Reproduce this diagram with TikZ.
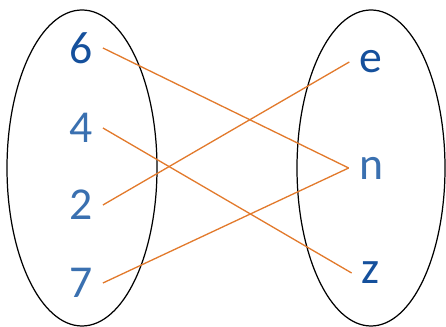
\documentclass[tikz,border=0pt]{standalone}
\usepackage{fontspec}
\setmainfont{Carlito}
\definecolor{numblue}{HTML}{15509C}
\definecolor{litblue}{HTML}{3A70B0}
\definecolor{linkorange}{HTML}{E27A2C}
\tikzset{
  elem/.style={inner sep=0.2cm, font=\fontsize{26}{31}\selectfont},
  link/.style={linkorange, line width=0.75pt},
}
\begin{document}
\begin{tikzpicture}[x=0.02cm, y=0.02cm]
            \useasboundingbox (0, 0) rectangle (446, 327);
            \draw[line width=0.7pt] (82, 159) ellipse [x radius=75, y radius=158];
            \draw[line width=0.7pt] (371, 159) ellipse [x radius=74, y radius=158];

            \node[elem, text=numblue] (n6) at (81, 279) {6};
            \node[elem, text=litblue] (n4) at (81, 199) {4};
            \node[elem, text=litblue] (n2) at (81, 122) {2};
            \node[elem, text=litblue] (n7) at (81, 44) {7};

            \node[elem, text=numblue] (le) at (371, 265) {e};
            \node[elem, text=litblue] (ln) at (371, 159) {n};
            \node[elem, text=numblue] (lz) at (371, 54) {z};

            \draw[link] (n6.east) -- (ln.west);
            \draw[link] (n4.east) -- (lz.west);
            \draw[link] (n2.east) -- (le.west);
            \draw[link] (n7.east) -- (ln.west);
          \end{tikzpicture}
\end{document}
